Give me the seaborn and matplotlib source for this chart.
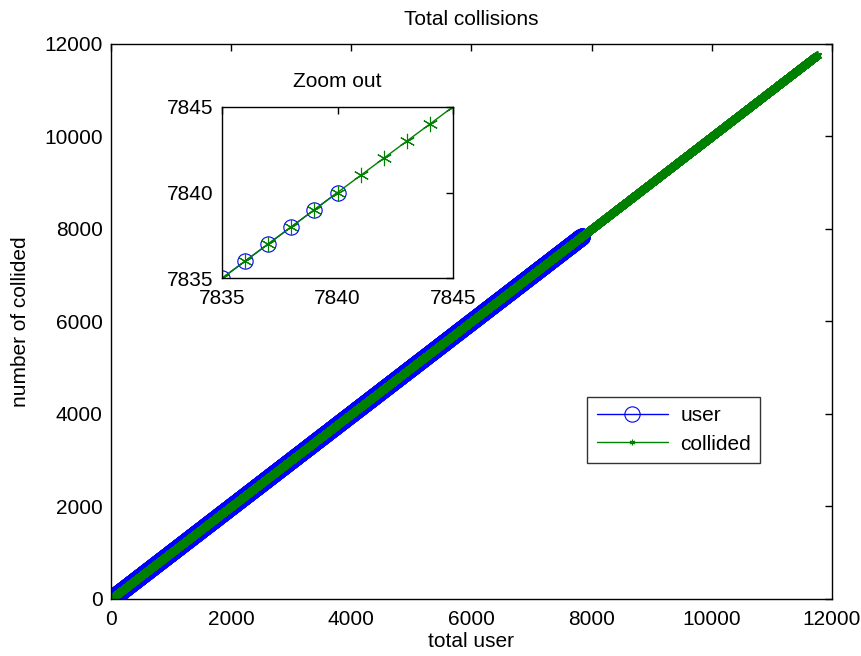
import numpy as np
import pandas as pd
import matplotlib
matplotlib.use("Agg")
import matplotlib.pyplot as plt
import seaborn as sns

# ─── Data ────────────────────────────────────────────────
# every user count from 0 up to the last value reached by each series
USER_LAST = 7840
COLLIDED_LAST = 11760
user_x = np.arange(0, USER_LAST + 1)
user_y = user_x.copy()
coll_x = np.arange(0, COLLIDED_LAST + 1)
coll_y = coll_x.copy()

MAIN_TICKS = [0, 2000, 4000, 6000, 8000, 10000, 12000]
ZOOM_TICKS = [7835, 7840, 7845]

# ─── Style ────────────────────────────────────────────────
sns.set_theme(style="white")
plt.rcParams["font.family"] = ["Liberation Sans", "DejaVu Sans"]
plt.rcParams.update({
    "axes.edgecolor": "black",
    "axes.linewidth": 1.0,
    "text.color": "black",
    "axes.labelcolor": "black",
    "xtick.color": "black",
    "ytick.color": "black",
    "xtick.direction": "in",
    "ytick.direction": "in",
    "xtick.top": True,
    "ytick.right": True,
    "xtick.major.size": 5,
    "ytick.major.size": 5,
})

FS = 15
BLUE = "#0000ff"
GREEN = "#008000"

fig = plt.figure(figsize=(8.61, 6.56), dpi=100)
ax = fig.add_axes([0.129, 0.087, 0.837, 0.846])

user_df = pd.DataFrame({"x": user_x, "y": user_y})
coll_df = pd.DataFrame({"x": coll_x, "y": coll_y})

sns.lineplot(data=user_df, x="x", y="y", ax=ax, estimator=None, sort=False,
             color=BLUE, lw=1, marker="o", markersize=11,
             markerfacecolor="none", markeredgecolor=BLUE, markeredgewidth=0.8,
             label="user")
sns.lineplot(data=coll_df, x="x", y="y", ax=ax, estimator=None, sort=False,
             color=GREEN, lw=1, marker=(6, 2, 0), markersize=6,
             markeredgecolor=GREEN, markeredgewidth=0.8,
             label="collided")

ax.set_xlim(0, 12000)
ax.set_ylim(0, 12000)
ax.set_xticks(MAIN_TICKS)
ax.set_yticks(MAIN_TICKS)
ax.tick_params(labelsize=FS, width=1)
ax.tick_params(axis="x", pad=8)
ax.tick_params(axis="y", pad=6)
ax.set_xlabel("total user", fontsize=FS, labelpad=2)
ax.set_ylabel("number of collided", fontsize=FS, labelpad=10)
ax.set_title("Total collisions", fontsize=FS, pad=14)

leg = ax.legend(loc="lower left", bbox_to_anchor=(0.661, 0.245), fontsize=FS,
                frameon=True, fancybox=False, edgecolor="black",
                borderaxespad=0, handlelength=3.4, borderpad=0.45,
                labelspacing=0.45, handletextpad=0.6)
leg.get_frame().set_linewidth(1.0)
for h in leg.legend_handles:
    h.set_markersize(11 if h.get_label() == "user" else 4)

# ─── Inset ────────────────────────────────────────────────
ins = fig.add_axes([0.258, 0.576, 0.268, 0.261])
sns.lineplot(data=user_df, x="x", y="y", ax=ins, estimator=None, sort=False,
             color=BLUE, lw=1, marker="o", markersize=11,
             markerfacecolor="none", markeredgecolor=BLUE, markeredgewidth=0.8,
             legend=False)
sns.lineplot(data=coll_df, x="x", y="y", ax=ins, estimator=None, sort=False,
             color=GREEN, lw=1, marker=(6, 2, 0), markersize=11,
             markeredgecolor=GREEN, markeredgewidth=0.8,
             legend=False)
ins.set_xlim(7835, 7845)
ins.set_ylim(7835, 7845)
ins.set_xticks(ZOOM_TICKS)
ins.set_yticks(ZOOM_TICKS)
ins.tick_params(labelsize=FS, width=1)
ins.tick_params(axis="x", pad=8)
ins.tick_params(axis="y", pad=6)
ins.set_xlabel("")
ins.set_ylabel("")
ins.set_title("Zoom out", fontsize=FS, pad=14)

fig.savefig("out.png", dpi=100)
